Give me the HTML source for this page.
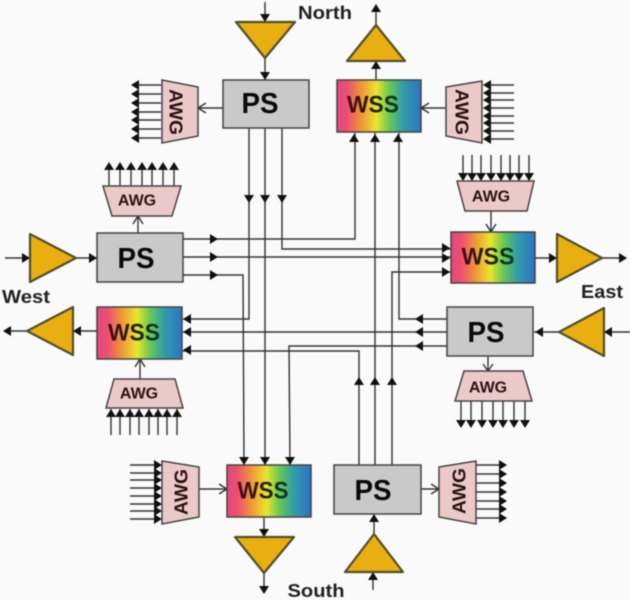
<!DOCTYPE html>
<html>
<head>
<meta charset="utf-8">
<style>
html,body{margin:0;padding:0;background:#fafafa;}
svg{display:block;filter:blur(0.45px);}
text{font-family:"Liberation Sans",Arial,sans-serif;font-weight:bold;text-anchor:middle;dominant-baseline:central;}
.l{fill:none;stroke:#333;stroke-width:1.4;}
.b{stroke:#444;stroke-width:1.5;}
.ps{fill:#c9c9c9;}
.awg{fill:#ecc9c9;stroke:#444;stroke-width:1.5;}
.amp{fill:#e9ae0f;stroke:#50502c;stroke-width:2.2;stroke-linejoin:round;}
.pst{font-size:29px;fill:#0a0a0a;}
.wt{font-size:24px;fill:url(#tg);}
.at{font-size:16px;fill:#2a1212;}
.ar{font-size:18.5px;fill:#2a1212;}
.lb{font-size:18px;fill:#222;}
</style>
</head>
<body>
<svg width="630" height="600" viewBox="0 0 630 600" xmlns="http://www.w3.org/2000/svg">
<defs>
<linearGradient id="rb" x1="0" x2="1" y1="0" y2="0">
<stop offset="0" stop-color="#e4487f"/><stop offset=".12" stop-color="#ec4f72"/><stop offset=".3" stop-color="#f09a35"/><stop offset=".47" stop-color="#e8e62c"/><stop offset=".62" stop-color="#6cc855"/><stop offset=".78" stop-color="#339fa5"/><stop offset="1" stop-color="#2d72c4"/>
</linearGradient>
<linearGradient id="tg" x1="0" x2="1" y1="0" y2="0">
<stop offset="0" stop-color="#4a0818"/><stop offset=".55" stop-color="#22220c"/><stop offset="1" stop-color="#083e28"/>
</linearGradient>
<polygon id="h" points="0,0 -8,-5 -8,5" fill="#111"/>
</defs>
<rect width="630" height="600" fill="#fafafa"/>

<!-- bus lines -->
<path class="l" d="M249 128V319H183"/>
<path class="l" d="M265 128V465"/>
<path class="l" d="M282 128V249H451"/>
<path class="l" d="M183 239H355V133"/>
<path class="l" d="M183 257H451"/>
<path class="l" d="M183 275H243L244 465"/>
<path class="l" d="M447 319H399V133"/>
<path class="l" d="M447 332H183"/>
<path class="l" d="M447 346H289L290 465"/>
<path class="l" d="M359 465V351H183"/>
<path class="l" d="M375 465V133"/>
<path class="l" d="M392 465V272H451"/>

<!-- bus heads -->
<use href="#h" transform="translate(249,203) rotate(90)"/>
<use href="#h" transform="translate(265,203) rotate(90)"/>
<use href="#h" transform="translate(282,203) rotate(90)"/>
<use href="#h" transform="translate(218,239)"/>
<use href="#h" transform="translate(218,257)"/>
<use href="#h" transform="translate(218,275)"/>
<use href="#h" transform="translate(183,319) rotate(180)"/>
<use href="#h" transform="translate(183,332) rotate(180)"/>
<use href="#h" transform="translate(183,350) rotate(180)"/>
<use href="#h" transform="translate(354,134) rotate(-90)"/>
<use href="#h" transform="translate(375,134) rotate(-90)"/>
<use href="#h" transform="translate(398,134) rotate(-90)"/>
<use href="#h" transform="translate(450,248)"/>
<use href="#h" transform="translate(450,258)"/>
<use href="#h" transform="translate(450,272)"/>
<use href="#h" transform="translate(415,319) rotate(180)"/>
<use href="#h" transform="translate(415,332) rotate(180)"/>
<use href="#h" transform="translate(415,346) rotate(180)"/>
<use href="#h" transform="translate(359,377) rotate(-90)"/>
<use href="#h" transform="translate(375,377) rotate(-90)"/>
<use href="#h" transform="translate(392,377) rotate(-90)"/>
<use href="#h" transform="translate(244,465) rotate(90)"/>
<use href="#h" transform="translate(265,465) rotate(90)"/>
<use href="#h" transform="translate(290,465) rotate(90)"/>

<!-- North in -->
<path class="l" d="M265 2V80"/>
<use href="#h" transform="translate(265,22) rotate(90)"/>
<use href="#h" transform="translate(265,80) rotate(90)"/>
<polygon class="amp" points="236,22 295,22 265,58"/>
<!-- North out -->
<path class="l" d="M376 80V6"/>
<use href="#h" transform="translate(376,4) rotate(-90)"/>
<use href="#h" transform="translate(376,61) rotate(-90)"/>
<polygon class="amp" points="376,25 347,61 405,61"/>
<!-- West in -->
<path class="l" d="M5 258H97"/>
<use href="#h" transform="translate(30,258)"/>
<use href="#h" transform="translate(97,258)"/>
<polygon class="amp" points="30,234 76,258 30,282"/>
<!-- West out -->
<path class="l" d="M97 331H5"/>
<use href="#h" transform="translate(3,331) rotate(180)"/>
<use href="#h" transform="translate(73,331) rotate(180)"/>
<polygon class="amp" points="27,331 73,307 73,355"/>
<!-- East out -->
<path class="l" d="M535 258H626"/>
<use href="#h" transform="translate(557,258)"/>
<use href="#h" transform="translate(627,258)"/>
<polygon class="amp" points="557,234 602,258 557,282"/>
<!-- East in -->
<path class="l" d="M630 332H534"/>
<use href="#h" transform="translate(604,332) rotate(180)"/>
<use href="#h" transform="translate(535,332) rotate(180)"/>
<polygon class="amp" points="559,332 604,308 604,356"/>
<!-- South out -->
<path class="l" d="M264 517V590"/>
<use href="#h" transform="translate(264,537) rotate(90)"/>
<use href="#h" transform="translate(264,594) rotate(90)"/>
<polygon class="amp" points="235,537 294,537 264,573"/>
<!-- South in -->
<path class="l" d="M373 590V572M374 534V515"/>
<use href="#h" transform="translate(373,572) rotate(-90)"/>
<use href="#h" transform="translate(374,514) rotate(-90)"/>
<polygon class="amp" points="374,534 345,572 403,572"/>

<!-- AWG connectors -->
<path class="l" d="M223 108H198M206 103L198 108L206 113"/>
<path class="l" d="M446 108H421M429 103L421 108L429 113"/>
<path class="l" d="M138 233V216M133 224L138 216L143 224"/>
<path class="l" d="M140 379V359M135 367L140 359L145 367"/>
<path class="l" d="M491 211V232M486 224L491 232L496 224"/>
<path class="l" d="M488 356V371M483 364L488 371L493 364"/>
<path class="l" d="M199 489H227M219 484L227 489L219 494"/>
<path class="l" d="M420 489H439M431 484L439 489L431 494"/>

<!-- AWG N left outputs -->
<path class="l" d="M161 85H135M161 94H135M161 103H135M161 112H135M161 120H135M161 129H135M161 138H135"/>
<use href="#h" transform="translate(131,85) rotate(180)"/><use href="#h" transform="translate(131,94) rotate(180)"/><use href="#h" transform="translate(131,103) rotate(180)"/><use href="#h" transform="translate(131,112) rotate(180)"/><use href="#h" transform="translate(131,120) rotate(180)"/><use href="#h" transform="translate(131,129) rotate(180)"/><use href="#h" transform="translate(131,138) rotate(180)"/>
<!-- AWG N right inputs -->
<path class="l" d="M514 85H484M514 93H484M514 100H484M514 108H484M514 116H484M514 123H484M514 131H484M514 139H484"/>
<use href="#h" transform="translate(483,85) rotate(180)"/><use href="#h" transform="translate(483,93) rotate(180)"/><use href="#h" transform="translate(483,100) rotate(180)"/><use href="#h" transform="translate(483,108) rotate(180)"/><use href="#h" transform="translate(483,116) rotate(180)"/><use href="#h" transform="translate(483,123) rotate(180)"/><use href="#h" transform="translate(483,131) rotate(180)"/><use href="#h" transform="translate(483,139) rotate(180)"/>
<!-- AWG W up outputs -->
<path class="l" d="M109 186V166M120 186V166M131 186V166M142 186V166M152 186V166M163 186V166M174 186V166"/>
<use href="#h" transform="translate(109,162) rotate(-90)"/><use href="#h" transform="translate(120,162) rotate(-90)"/><use href="#h" transform="translate(131,162) rotate(-90)"/><use href="#h" transform="translate(142,162) rotate(-90)"/><use href="#h" transform="translate(152,162) rotate(-90)"/><use href="#h" transform="translate(163,162) rotate(-90)"/><use href="#h" transform="translate(174,162) rotate(-90)"/>
<!-- AWG W low inputs -->
<path class="l" d="M111 435V409M120 435V409M130 435V409M139 435V409M149 435V409M158 435V409M167 435V409M177 435V409"/>
<use href="#h" transform="translate(111,409) rotate(-90)"/><use href="#h" transform="translate(120,409) rotate(-90)"/><use href="#h" transform="translate(130,409) rotate(-90)"/><use href="#h" transform="translate(139,409) rotate(-90)"/><use href="#h" transform="translate(149,409) rotate(-90)"/><use href="#h" transform="translate(158,409) rotate(-90)"/><use href="#h" transform="translate(167,409) rotate(-90)"/><use href="#h" transform="translate(177,409) rotate(-90)"/>
<!-- AWG E up inputs -->
<path class="l" d="M463 155V180M472 155V180M481 155V180M491 155V180M501 155V180M510 155V180M519 155V180M529 155V180"/>
<use href="#h" transform="translate(463,181) rotate(90)"/><use href="#h" transform="translate(472,181) rotate(90)"/><use href="#h" transform="translate(481,181) rotate(90)"/><use href="#h" transform="translate(491,181) rotate(90)"/><use href="#h" transform="translate(501,181) rotate(90)"/><use href="#h" transform="translate(510,181) rotate(90)"/><use href="#h" transform="translate(519,181) rotate(90)"/><use href="#h" transform="translate(529,181) rotate(90)"/>
<!-- AWG E low outputs -->
<path class="l" d="M461 401V425M471 401V425M482 401V425M493 401V425M503 401V425M514 401V425M525 401V425"/>
<use href="#h" transform="translate(461,428) rotate(90)"/><use href="#h" transform="translate(471,428) rotate(90)"/><use href="#h" transform="translate(482,428) rotate(90)"/><use href="#h" transform="translate(493,428) rotate(90)"/><use href="#h" transform="translate(503,428) rotate(90)"/><use href="#h" transform="translate(514,428) rotate(90)"/><use href="#h" transform="translate(525,428) rotate(90)"/>
<!-- AWG S left inputs -->
<path class="l" d="M130 465H161M130 473H161M130 480H161M130 488H161M130 496H161M130 504H161M130 511H161M130 519H161"/>
<use href="#h" transform="translate(162,465)"/><use href="#h" transform="translate(162,473)"/><use href="#h" transform="translate(162,480)"/><use href="#h" transform="translate(162,488)"/><use href="#h" transform="translate(162,496)"/><use href="#h" transform="translate(162,504)"/><use href="#h" transform="translate(162,511)"/><use href="#h" transform="translate(162,519)"/>
<!-- AWG S right outputs -->
<path class="l" d="M476 465H504M476 474H504M476 483H504M476 492H504M476 501H504M476 509H504M476 518H504"/>
<use href="#h" transform="translate(507,465)"/><use href="#h" transform="translate(507,474)"/><use href="#h" transform="translate(507,483)"/><use href="#h" transform="translate(507,492)"/><use href="#h" transform="translate(507,501)"/><use href="#h" transform="translate(507,509)"/><use href="#h" transform="translate(507,518)"/>

<!-- PS boxes -->
<rect class="b ps" x="223" y="80" width="86" height="48"/>
<rect class="b ps" x="97" y="233" width="86" height="49"/>
<rect class="b ps" x="447" y="307" width="86" height="49"/>
<rect class="b ps" x="334" y="465" width="87" height="49"/>
<text class="pst" x="260" y="104" textLength="37" lengthAdjust="spacingAndGlyphs">PS</text>
<text class="pst" x="136" y="259" textLength="37" lengthAdjust="spacingAndGlyphs">PS</text>
<text class="pst" x="486" y="333" textLength="37" lengthAdjust="spacingAndGlyphs">PS</text>
<text class="pst" x="373" y="491" textLength="37" lengthAdjust="spacingAndGlyphs">PS</text>

<!-- WSS boxes -->
<rect class="b" fill="url(#rb)" x="337" y="80" width="84" height="52"/>
<rect class="b" fill="url(#rb)" x="451" y="232" width="84" height="51"/>
<rect class="b" fill="url(#rb)" x="97" y="307" width="85" height="52"/>
<rect class="b" fill="url(#rb)" x="227" y="465" width="84" height="52"/>
<text class="wt" x="373" y="105" textLength="52" lengthAdjust="spacingAndGlyphs">WSS</text>
<text class="wt" x="488" y="257" textLength="53" lengthAdjust="spacingAndGlyphs">WSS</text>
<text class="wt" x="134" y="333" textLength="52" lengthAdjust="spacingAndGlyphs">WSS</text>
<text class="wt" x="263" y="491" textLength="51" lengthAdjust="spacingAndGlyphs">WSS</text>

<!-- AWG shapes -->
<polygon class="awg" points="162,80 198,87 198,136 162,143"/>
<polygon class="awg" points="446,87 482,81 482,143 446,136"/>
<polygon class="awg" points="103,186 181,186 172,216 112,216"/>
<polygon class="awg" points="114,379 175,379 183,408 106,408"/>
<polygon class="awg" points="457,181 534,181 527,211 465,211"/>
<polygon class="awg" points="464,371 523,371 532,401 455,401"/>
<polygon class="awg" points="162,461 199,467 199,517 162,524"/>
<polygon class="awg" points="439,467 476,461 476,524 439,517"/>
<text class="ar" transform="translate(176,112) rotate(90)" textLength="46" lengthAdjust="spacingAndGlyphs">AWG</text>
<text class="ar" transform="translate(462,112) rotate(90)" textLength="46" lengthAdjust="spacingAndGlyphs">AWG</text>
<text class="at" x="137" y="201">AWG</text>
<text class="at" x="139" y="394">AWG</text>
<text class="at" x="491" y="197">AWG</text>
<text class="at" x="488" y="388">AWG</text>
<text class="ar" transform="translate(181,492) rotate(-90)" textLength="46" lengthAdjust="spacingAndGlyphs">AWG</text>
<text class="ar" transform="translate(459,491) rotate(-90)" textLength="46" lengthAdjust="spacingAndGlyphs">AWG</text>

<!-- Labels -->
<text class="lb" x="325" y="13" textLength="54" lengthAdjust="spacingAndGlyphs">North</text>
<text class="lb" x="26" y="297" textLength="48" lengthAdjust="spacingAndGlyphs">West</text>
<text class="lb" x="602" y="292" textLength="42" lengthAdjust="spacingAndGlyphs">East</text>
<text class="lb" x="316" y="591" textLength="57" lengthAdjust="spacingAndGlyphs">South</text>
</svg>
</body>
</html>
